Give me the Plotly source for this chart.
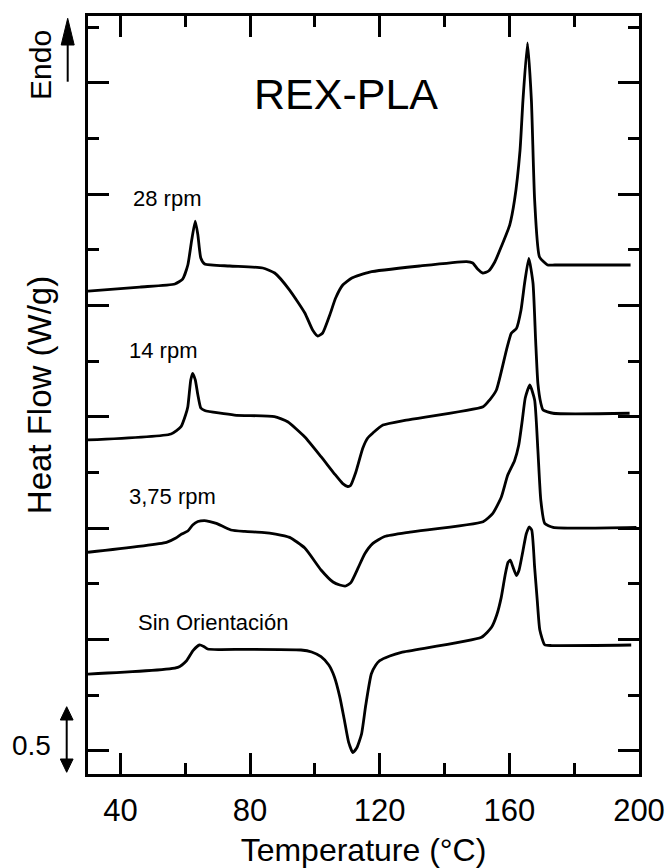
import plotly.graph_objects as go

# ---------------- data (temperature in °C, heat flow in W/g with vertical offsets) ----------------
t_28 = [30.0, 46.0, 56.8, 59.2, 60.8, 62.0, 63.1, 63.9, 64.8, 66.0, 73.7, 83.9, 87.6, 92.2, 96.9,
        99.3, 100.9, 102.4, 104.6, 106.4, 108.6, 111.4, 116.9, 132.3, 146.8, 148.7, 150.2, 151.8,
        153.6, 155.5, 157.6, 160.1, 161.6, 163.3, 164.2, 165.6, 166.8, 167.8, 169.3, 171.8, 174.0, 197.4]
hf_28 = [4.130, 4.166, 4.193, 4.238, 4.364, 4.589, 4.759, 4.634, 4.427, 4.373, 4.355, 4.337, 4.292,
         4.139, 3.933, 3.780, 3.726, 3.753, 3.915, 4.067, 4.184, 4.247, 4.301, 4.355, 4.395, 4.382,
         4.328, 4.292, 4.310, 4.391, 4.535, 4.723, 4.948, 5.397, 5.846, 6.359, 5.846, 4.948, 4.436,
         4.364, 4.364, 4.364]

t_14 = [30.0, 55.6, 58.7, 60.1, 60.8, 61.7, 62.3, 63.1, 63.9, 64.8, 66.0, 75.2, 87.5, 91.6, 96.9,
        101.9, 106.1, 108.6, 110.1, 111.0, 112.6, 114.8, 116.3, 117.9, 121.0, 128.2, 151.9, 153.9,
        156.0, 159.1, 160.6, 162.2, 163.6, 164.7, 166.0, 167.3, 168.1, 168.8, 169.7, 170.4, 173.5,
        197.1]
hf_14 = [2.792, 2.846, 2.911, 3.016, 3.091, 3.331, 3.391, 3.331, 3.196, 3.079, 3.057, 3.016, 3.001,
         2.956, 2.819, 2.642, 2.486, 2.400, 2.374, 2.383, 2.500, 2.720, 2.810, 2.855, 2.926, 2.971,
         3.091, 3.151, 3.241, 3.600, 3.750, 3.795, 3.960, 4.200, 4.424, 4.200, 3.690, 3.301, 3.124,
         3.061, 3.032, 3.032]

t_375 = [30.0, 54.2, 57.1, 58.9, 60.8, 62.3, 63.9, 65.9, 67.6, 69.6, 74.1, 78.4, 83.6, 87.9, 92.2,
         96.9, 101.9, 105.6, 107.7, 109.5, 111.1, 113.3, 115.4, 117.9, 121.5, 129.3, 151.9, 154.9,
         157.5, 159.5, 161.6, 162.9, 164.0, 164.9, 166.3, 167.8, 168.8, 169.7, 170.9, 173.5, 199.2]
hf_375 = [1.783, 1.872, 1.911, 1.947, 1.974, 2.028, 2.059, 2.068, 2.059, 2.043, 1.983, 1.970, 1.962,
          1.947, 1.917, 1.821, 1.624, 1.516, 1.489, 1.480, 1.510, 1.640, 1.770, 1.863, 1.925, 1.965,
          2.058, 2.133, 2.277, 2.477, 2.606, 2.747, 2.971, 3.169, 3.286, 3.151, 2.702, 2.253, 2.043,
          2.007, 2.007]

t_sin = [30.0, 57.7, 60.4, 62.4, 64.4, 65.7, 66.9, 70.6, 79.3, 95.7, 99.0, 101.9, 104.3, 106.0,
         107.7, 109.1, 110.4, 111.7, 112.9, 114.4, 115.7, 117.4, 118.8, 120.0, 123.1, 126.7, 151.4,
         154.5, 156.1, 157.5, 158.7, 159.6, 160.3, 161.0, 162.2, 163.0, 164.2, 165.2, 166.1, 166.9,
         167.8, 168.6, 169.4, 170.9, 173.1, 197.6]
hf_sin = [0.689, 0.749, 0.809, 0.899, 0.950, 0.936, 0.914, 0.909, 0.911, 0.905, 0.887, 0.845, 0.770,
          0.665, 0.482, 0.276, 0.078, -0.016, 0.024, 0.150, 0.411, 0.689, 0.770, 0.809, 0.851, 0.884,
          1.019, 1.109, 1.219, 1.378, 1.579, 1.693, 1.713, 1.660, 1.574, 1.624, 1.797, 1.947, 2.010,
          1.983, 1.648, 1.354, 1.084, 0.952, 0.945, 0.950]

series_names = ["28 rpm", "14 rpm", "3,75 rpm", "Sin Orientación"]
series_t = [t_28, t_14, t_375, t_sin]
series_hf = [hf_28, hf_14, hf_375, hf_sin]

label_t = [54.3, 53.1, 56.0, 68.6]
label_hf = [4.957, 3.600, 2.284, 1.156]

x_ticks = [40, 80, 120, 160, 200]

FONT = "Liberation Sans, Arial, sans-serif"

fig = go.Figure()
for name, t, hf in zip(series_names, series_t, series_hf):
    fig.add_trace(go.Scatter(x=t, y=hf, mode="lines", name=name,
                             line=dict(color="black", width=2.8, shape="spline", smoothing=0.5),
                             showlegend=False))

for name, t, hf in zip(series_names, label_t, label_hf):
    fig.add_annotation(x=t, y=hf, xref="x", yref="y", text=name, showarrow=False,
                       font=dict(family=FONT, size=22, color="black"),
                       xanchor="center", yanchor="middle")

fig.add_annotation(x=109.5, y=5.90, xref="x", yref="y", text="REX-PLA", showarrow=False,
                   font=dict(family=FONT, size=43, color="black"), xanchor="center", yanchor="middle")

# ---- frame geometry in pixels (for decorations outside the plot area) ----
L, T, W, H = 88, 16, 551, 758


def pxx(x):
    return (x - L) / W


def pxy(y):
    return (T + H - y) / H


shapes = []
# Endo arrow
shapes.append(dict(type="line", xref="paper", yref="paper", x0=pxx(67.7), x1=pxx(67.7),
                   y0=pxy(81.7), y1=pxy(40), line=dict(color="black", width=2)))
shapes.append(dict(type="path", xref="paper", yref="paper",
                   path=f"M {pxx(67.7)} {pxy(18.3)} L {pxx(61.2)} {pxy(45)} L {pxx(74.2)} {pxy(45)} Z",
                   fillcolor="black", line=dict(color="black", width=1)))
# 0.5 scale double arrow
shapes.append(dict(type="line", xref="paper", yref="paper", x0=pxx(66.7), x1=pxx(66.7),
                   y0=pxy(716), y1=pxy(763), line=dict(color="black", width=2)))
shapes.append(dict(type="path", xref="paper", yref="paper",
                   path=f"M {pxx(66.7)} {pxy(706.7)} L {pxx(60.3)} {pxy(720)} L {pxx(73.1)} {pxy(720)} Z",
                   fillcolor="black", line=dict(color="black", width=1)))
shapes.append(dict(type="path", xref="paper", yref="paper",
                   path=f"M {pxx(66.7)} {pxy(772.3)} L {pxx(60.3)} {pxy(759)} L {pxx(73.1)} {pxy(759)} Z",
                   fillcolor="black", line=dict(color="black", width=1)))

fig.add_annotation(x=pxx(41), y=pxy(65), xref="paper", yref="paper", text="Endo", textangle=-90,
                   showarrow=False, font=dict(family=FONT, size=30, color="black"),
                   xanchor="center", yanchor="middle")
fig.add_annotation(x=pxx(31.7), y=pxy(745), xref="paper", yref="paper", text="0.5",
                   showarrow=False, font=dict(family=FONT, size=28, color="black"),
                   xanchor="center", yanchor="middle")

fig.update_layout(
    width=670, height=868,
    margin=dict(l=L, r=670 - L - W, t=T, b=868 - T - H, autoexpand=False),
    paper_bgcolor="white", plot_bgcolor="white",
    shapes=shapes,
    font=dict(family=FONT, color="black"),
)

fig.update_xaxes(range=[30, 200], tickvals=x_ticks, ticktext=[str(v) for v in x_ticks],
                 ticks="inside", ticklen=21, tickwidth=2.5, tickcolor="black",
                 minor=dict(tickvals=[60, 100, 140, 180], ticks="inside", ticklen=11,
                            tickwidth=2.5, tickcolor="black"),
                 showline=True, linewidth=2.8, linecolor="black", mirror="allticks",
                 showgrid=False, zeroline=False, automargin=False,
                 tickfont=dict(family=FONT, size=31, color="black"),
                 ticklabelstandoff=7,
                 title=dict(text="Temperature (°C)", font=dict(family=FONT, size=32, color="black"),
                            standoff=12))

fig.update_yaxes(range=[-0.209, 6.601], tick0=0, dtick=1,
                 ticks="inside", ticklen=21, tickwidth=2.5, tickcolor="black",
                 minor=dict(tick0=0.5, dtick=1, ticks="inside", ticklen=11,
                            tickwidth=2.5, tickcolor="black"),
                 showticklabels=False,
                 showline=True, linewidth=2.8, linecolor="black", mirror="allticks",
                 showgrid=False, zeroline=False, automargin=False,
                 title=dict(text="Heat Flow (W/g)", font=dict(family=FONT, size=33, color="black"),
                            standoff=24))

fig.write_html("out.html", config={"displayModeBar": False},
               post_script="document.body.style.margin='0px';document.body.style.overflow='hidden';")
